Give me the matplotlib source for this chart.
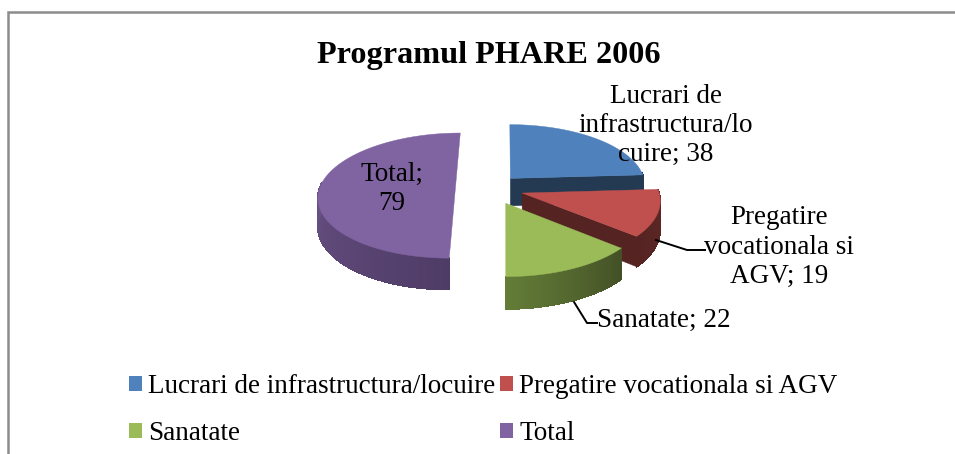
import numpy as np
import matplotlib
matplotlib.use("Agg")
import matplotlib.pyplot as plt
from matplotlib.collections import PolyCollection
from matplotlib.colors import to_rgb
from matplotlib.lines import Line2D
from matplotlib.patches import Patch

plt.rcParams['font.family'] = ['Liberation Serif', 'DejaVu Serif']

# Data
title = "Programul PHARE 2006"
categories = ["Lucrari de infrastructura/locuire", "Pregatire vocationala si AGV", "Sanatate", "Total"]
values = [38, 19, 22, 79]
data_labels = ["Lucrari de\ninfrastructura/lo\ncuire; 38",
               "Pregatire\nvocationala si\nAGV; 19",
               "Sanatate; 22",
               "Total;\n79"]

# Style
top_colors = ["#4F81BD", "#C0504D", "#9BBB59", "#8064A2"]
wall_start = ["#2A4159", "#5E2826", "#434F26", "#4F3C66"]   # colour where each clockwise arc begins
wall_end = ["#243A52", "#552422", "#637D37", "#7F64A0"]     # colour where it ends
radial_face = ["#243A52", "#552422", None, None]
explode = [(0.04, 0.17), (0.125, -0.07), (0.005, -0.23), (-0.365, 0.0)]
CX, CY, RX, RY, K, DEPTH = 505.0, 188.7, 136.0, 61.8, 0.11, 28.0

W, H = 955, 454
fig = plt.figure(figsize=(W / 100, H / 100), dpi=100, facecolor="white")
ax = fig.add_axes([0, 0, 1, 1])
ax.set_xlim(0, W)
ax.set_ylim(H, 0)
ax.axis("off")


def project(u, v, drop=False):
    w = 1 + K * v
    x = CX + RX * u / w
    y = CY - RY * v / w
    if drop:
        y = y + DEPTH / w
    return x, y


def mix(a, b, t):
    a, b = np.array(to_rgb(a)), np.array(to_rgb(b))
    return tuple(a + (b - a) * t)


# Frame
ax.add_line(Line2D([8, 8, W], [H, 12, 12], color="#8C8C8C", lw=1.8, solid_joinstyle="miter"))

total = sum(values)
spans = np.array(values) / total * 360
ends = 90 - np.cumsum(spans)
starts = ends + spans

for i in range(len(values)):
    a0, a1 = np.radians(starts[i]), np.radians(ends[i])
    du, dv = explode[i]
    t = np.linspace(a0, a1, 120)
    u = du + np.cos(t)
    v = dv + np.sin(t)

    # radial face on the clockwise side of the slice
    if radial_face[i]:
        xa, ya = project(np.array([du, du + np.cos(a1)]), np.array([dv, dv + np.sin(a1)]))
        xb, yb = project(np.array([du, du + np.cos(a1)]), np.array([dv, dv + np.sin(a1)]), True)
        ax.fill([xa[0], xa[1], xb[1], xb[0]], [ya[0], ya[1], yb[1], yb[0]],
                color=radial_face[i], lw=0.3, zorder=2 + i * 3)

    # outer wall, only where it faces the viewer, shaded along the arc
    vis = np.sin(t) < 0.1
    if vis.any():
        tv = t[vis]
        uv, vv = du + np.cos(tv), dv + np.sin(tv)
        xt, yt = project(uv, vv)
        xd, yd = project(uv, vv, True)
        cols_all = [mix(wall_start[i], wall_end[i], j / (len(t) - 1)) for j in range(len(t))]
        cols = [c for c, keep in zip(cols_all, vis) if keep]
        ax.fill(np.r_[xt, xd[::-1]], np.r_[yt, yd[::-1]], color=cols[len(cols) // 2], lw=0.3,
                zorder=3 + i * 3)
        quads = [[(xt[j], yt[j]), (xt[j + 1], yt[j + 1]), (xd[j + 1], yd[j + 1]), (xd[j], yd[j])]
                 for j in range(len(tv) - 1)]
        ax.add_collection(PolyCollection(quads, facecolors=cols[:-1], edgecolors=cols[:-1],
                                         linewidths=0.5, antialiaseds=False, zorder=3 + i * 3))

    # top face
    xs, ys = project(np.r_[du, u], np.r_[dv, v])
    ax.fill(xs, ys, color=top_colors[i], lw=0.3, zorder=4 + i * 3)

ax.text(489, 56, title, ha="center", va="center", fontsize=23.2, fontweight="bold",
        color="black", zorder=30)

lab = dict(ha="center", va="center", fontsize=19.5, color="black", zorder=30, linespacing=1.22)
ax.text(666, 125.5, data_labels[0], **lab)
ax.text(779, 247, data_labels[1], **lab)
ax.text(664, 320, data_labels[2], **lab)
ax.text(392, 189, data_labels[3], **lab)

# Leader lines
ax.add_line(Line2D([656, 687, 705], [240, 250, 250], color="black", lw=1.4, zorder=20))
ax.add_line(Line2D([574, 587, 597], [302, 323, 323], color="black", lw=1.4, zorder=20))

# Legend reads row by row; matplotlib fills columns, so the order is swapped here
order = [0, 2, 1, 3]
handles = [Patch(facecolor=top_colors[k], edgecolor="none") for k in order]
leg = ax.legend(handles, [categories[k] for k in order], ncol=2, frameon=False, fontsize=19.5,
                loc="center left", bbox_to_anchor=(129, 410), bbox_transform=ax.transData,
                handlelength=0.48, handleheight=0.48, handletextpad=0.22,
                columnspacing=0.18, labelspacing=0.8, borderpad=0, borderaxespad=0)

fig.savefig("out.png", dpi=100, facecolor="white")
